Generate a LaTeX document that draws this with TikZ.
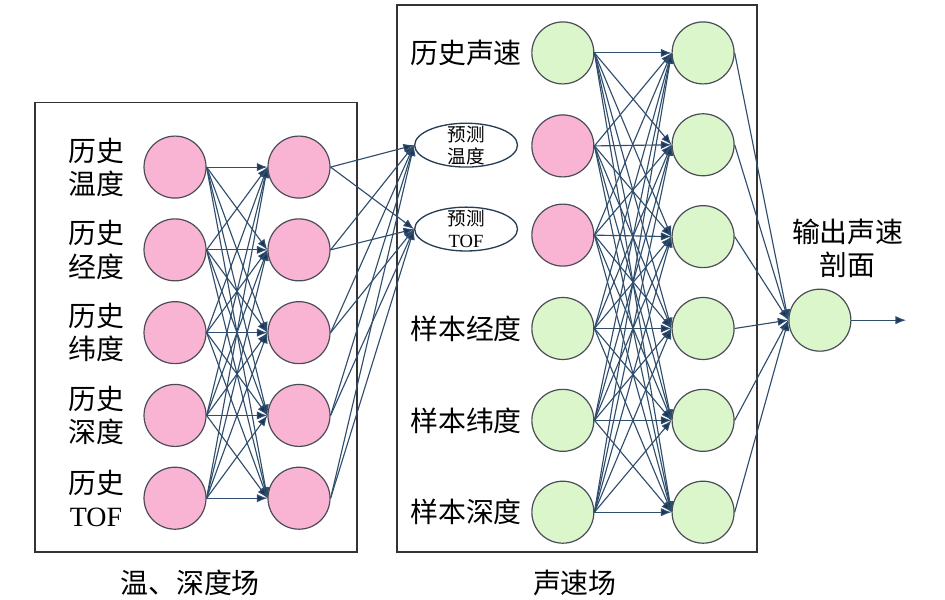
\documentclass[tikz,border=0pt]{standalone}
\usepackage{fontspec}
\setmainfont{Liberation Serif}
\newfontfamily\cjk{Noto Sans CJK SC}
\usepackage{tikz}
\usetikzlibrary{arrows.meta, shapes.geometric}
\definecolor{nodepink} {HTML}{F9B4D4}
\definecolor{nodegreen}{HTML}{DBF6CA}
\definecolor{wirecol}  {HTML}{2F4D6C}
\definecolor{tipcol}   {HTML}{1E3358}
\definecolor{rimcol}   {HTML}{4A4C58}
\tikzset{
  >={Latex[length=2.8mm, width=2.2mm, fill=tipcol]},
  neuron/.style={
    draw=rimcol, line width=0.9pt, circle,
    minimum size=16.4mm, inner sep=0pt
  },
  pinkneuron/.style={neuron, fill=nodepink},
  greenneuron/.style={neuron, fill=nodegreen},
  predict/.style={
    draw=wirecol!80!black, line width=1pt, ellipse,
    minimum width=27.2mm, minimum height=11.6mm,
    inner sep=0pt, fill=white
  },
  predtext/.style={
    align=center, inner sep=0pt,
    font=\cjk\fontsize{14}{16.5}\selectfont
  },
  biglabel/.style={
    align=center, inner sep=0pt,
    font=\cjk\fontsize{21}{25}\selectfont
  },
  field/.style={draw=black!80, line width=1pt},
  link/.style={->, draw=wirecol, line width=0.85pt},
}

\begin{document}
\begin{tikzpicture}[x=1cm, y=1cm]
\useasboundingbox (0,0) rectangle (25,-15.87);

% the two field boxes
\draw[field] (0.93,-2.72) rectangle (9.44,-14.60);
\draw[field] (10.50,-0.13) rectangle (20.03,-14.60);

% temperature / depth field: input and hidden layer
\foreach \i/\y in {1/-4.42, 2/-6.61, 3/-8.80, 4/-10.99, 5/-13.18} {
  \node[pinkneuron] (in\i)  at (4.63,\y) {};
  \node[pinkneuron] (hid\i) at (7.91,\y) {};
}
\node[biglabel] (inlab1) at (2.54,-4.42)  {历史\\温度};
\node[biglabel] (inlab2) at (2.54,-6.61)  {历史\\经度};
\node[biglabel] (inlab3) at (2.54,-8.80)  {历史\\纬度};
\node[biglabel] (inlab4) at (2.54,-10.99) {历史\\深度};
\node[biglabel] (inlab5) at (2.54,-13.18) {历史\\{\rmfamily TOF}};

% predicted outputs
\node[predict, label={[predtext]center:{预测\\温度}}] (ptemp) at (12.33,-3.84) {};
\node[predict, label={[predtext]center:{预测\\{\rmfamily TOF}}}] (ptof) at (12.33,-6.06) {};

% sound speed field: input and hidden layer
\node[greenneuron] (sp1) at (14.89,-1.40)  {};
\node[pinkneuron]  (sp2) at (14.89,-3.86)  {};
\node[pinkneuron]  (sp3) at (14.89,-6.22)  {};
\node[greenneuron] (sp4) at (14.89,-8.69)  {};
\node[greenneuron] (sp5) at (14.89,-11.12) {};
\node[greenneuron] (sp6) at (14.89,-13.55) {};
\foreach \i/\y in {1/-1.40, 2/-3.83, 3/-6.26, 4/-8.69, 5/-11.12, 6/-13.55} {
  \node[greenneuron] (sv\i) at (18.60,\y) {};
}
\node[biglabel] (splab1) at (12.33,-1.40)  {历史声速};
\node[biglabel] (splab4) at (12.33,-8.69)  {样本经度};
\node[biglabel] (splab5) at (12.33,-11.12) {样本纬度};
\node[biglabel] (splab6) at (12.33,-13.55) {样本深度};

% output node
\node[greenneuron] (out) at (21.69,-8.47) {};
\node[biglabel] (outlab) at (22.43,-6.57) {输出声速\\剖面};
\coordinate (outend) at (23.97,-8.47);

% field captions
\node[biglabel] (tdcap) at (5.03,-15.42)  {温、深度场};
\node[biglabel] (svcap) at (15.21,-15.42) {声速场};

% connections
\foreach \i in {1,...,5} {
  \foreach \j in {1,...,5} {
    \draw[link] (in\i.east) -- (hid\j.west);
  }
  \draw[link] (hid\i.east) -- (ptemp.west);
  \draw[link] (hid\i.east) -- (ptof.west);
}
\foreach \i in {1,...,6} {
  \foreach \j in {1,...,6} {
    \draw[link] (sp\i.east) -- (sv\j.west);
  }
  \draw[link] (sv\i.east) -- (out.west);
}
\draw[link] (out.east) -- (outend);

\end{tikzpicture}
\end{document}
